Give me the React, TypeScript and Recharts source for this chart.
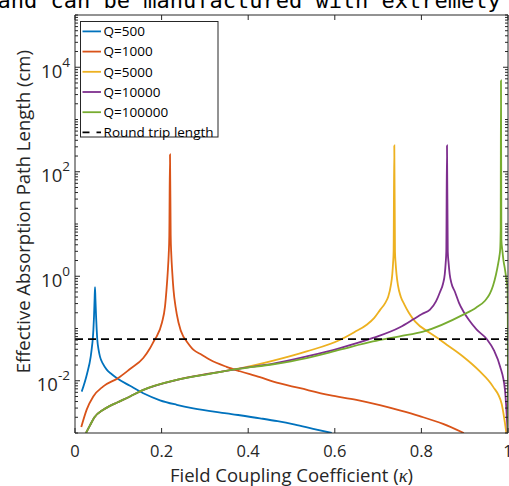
import React from 'react';
import { LineChart, Line, XAxis, YAxis, Legend } from 'recharts';

// ---------- data ----------
const seriesNames = ['Q=500', 'Q=1000', 'Q=5000', 'Q=10000', 'Q=100000'];
const seriesColors = ['#0072BD', '#D95319', '#EDB120', '#7E2F8E', '#77AC30'];
const roundTripName = 'Round trip length';

const xTicks = [0, 0.2, 0.4, 0.6, 0.8, 1];
const yLabeledExponents = [-2, 0, 2, 4];
const yDomain = [0.001, 100000];

const q500 = [
  { k: 0.0155, v: 0.0062 }, { k: 0.0277, v: 0.0135 }, { k: 0.0363, v: 0.029 },
  { k: 0.0388, v: 0.042 }, { k: 0.0409, v: 0.061 }, { k: 0.0425, v: 0.095 },
  { k: 0.0439, v: 0.17 }, { k: 0.0453, v: 0.38 }, { k: 0.0462, v: 0.62 },
  { k: 0.0471, v: 0.38 }, { k: 0.0487, v: 0.17 }, { k: 0.0501, v: 0.095 },
  { k: 0.0515, v: 0.061 }, { k: 0.0543, v: 0.04 }, { k: 0.0577, v: 0.029 },
  { k: 0.0647, v: 0.021 }, { k: 0.0732, v: 0.0163 }, { k: 0.085, v: 0.0133 },
  { k: 0.0962, v: 0.0113 }, { k: 0.127, v: 0.008 }, { k: 0.1577, v: 0.00575 },
  { k: 0.1963, v: 0.00423 }, { k: 0.2349, v: 0.00347 }, { k: 0.2732, v: 0.00297 },
  { k: 0.3503, v: 0.00238 }, { k: 0.4273, v: 0.00191 }, { k: 0.4677, v: 0.00168 },
  { k: 0.5081, v: 0.00144 }, { k: 0.55, v: 0.0012 }, { k: 0.593, v: 0.001 },
];

const q1000 = [
  { k: 0.0145, v: 0.0013 }, { k: 0.027, v: 0.0028 }, { k: 0.0422, v: 0.005 },
  { k: 0.0653, v: 0.0078 }, { k: 0.0999, v: 0.0113 }, { k: 0.127, v: 0.0168 },
  { k: 0.1577, v: 0.0272 }, { k: 0.1732, v: 0.042 }, { k: 0.1848, v: 0.063 },
  { k: 0.1887, v: 0.0707 }, { k: 0.2009, v: 0.13 }, { k: 0.2079, v: 0.265 },
  { k: 0.2113, v: 0.55 }, { k: 0.2141, v: 1.17 }, { k: 0.2164, v: 2.6 },
  { k: 0.2178, v: 6 }, { k: 0.2194, v: 214 }, { k: 0.221, v: 6 },
  { k: 0.2224, v: 2.6 }, { k: 0.2247, v: 1.17 }, { k: 0.2275, v: 0.55 },
  { k: 0.2321, v: 0.265 }, { k: 0.239, v: 0.13 }, { k: 0.25, v: 0.0707 },
  { k: 0.254, v: 0.063 }, { k: 0.2732, v: 0.0393 }, { k: 0.2925, v: 0.0315 },
  { k: 0.3118, v: 0.0252 }, { k: 0.35, v: 0.0185 }, { k: 0.381, v: 0.0152 },
  { k: 0.427, v: 0.0117 }, { k: 0.458, v: 0.0096 }, { k: 0.52, v: 0.0072 },
  { k: 0.588, v: 0.0053 }, { k: 0.65, v: 0.0043 }, { k: 0.704, v: 0.0034 },
  { k: 0.75, v: 0.0027 }, { k: 0.796, v: 0.0021 }, { k: 0.85, v: 0.0015 },
  { k: 0.898, v: 0.001 },
];

const q5000 = [
  { k: 0.0254, v: 0.001 }, { k: 0.0346, v: 0.0014 }, { k: 0.045, v: 0.002 },
  { k: 0.0653, v: 0.0028 }, { k: 0.0808, v: 0.0033 }, { k: 0.0962, v: 0.0038 },
  { k: 0.127, v: 0.005 }, { k: 0.158, v: 0.0067 }, { k: 0.235, v: 0.0104 },
  { k: 0.3116, v: 0.0138 }, { k: 0.381, v: 0.0172 }, { k: 0.458, v: 0.0242 },
  { k: 0.535, v: 0.0364 }, { k: 0.6127, v: 0.061 }, { k: 0.645, v: 0.085 },
  { k: 0.6737, v: 0.118 }, { k: 0.6912, v: 0.16 }, { k: 0.7051, v: 0.23 },
  { k: 0.7166, v: 0.31 }, { k: 0.7235, v: 0.41 }, { k: 0.7293, v: 0.66 },
  { k: 0.7328, v: 1.1 }, { k: 0.7346, v: 1.8 }, { k: 0.7358, v: 2.96 },
  { k: 0.7374, v: 318 }, { k: 0.739, v: 2.96 }, { k: 0.7404, v: 1.8 },
  { k: 0.7425, v: 1.1 }, { k: 0.746, v: 0.66 }, { k: 0.7522, v: 0.41 },
  { k: 0.7605, v: 0.29 }, { k: 0.771, v: 0.2 }, { k: 0.7852, v: 0.137 },
  { k: 0.8198, v: 0.082 }, { k: 0.8406, v: 0.063 }, { k: 0.8584, v: 0.049 },
  { k: 0.896, v: 0.0292 }, { k: 0.935, v: 0.0151 }, { k: 0.965, v: 0.0078 },
  { k: 0.985, v: 0.0037 }, { k: 0.9962, v: 0.001 },
];

const q10000 = [
  { k: 0.0254, v: 0.001 }, { k: 0.0346, v: 0.0014 }, { k: 0.045, v: 0.002 },
  { k: 0.0653, v: 0.0028 }, { k: 0.0808, v: 0.0033 }, { k: 0.0962, v: 0.0038 },
  { k: 0.127, v: 0.005 }, { k: 0.158, v: 0.0067 }, { k: 0.235, v: 0.0104 },
  { k: 0.3116, v: 0.0137 }, { k: 0.381, v: 0.0171 }, { k: 0.458, v: 0.0212 },
  { k: 0.535, v: 0.0292 }, { k: 0.612, v: 0.0423 }, { k: 0.6882, v: 0.066 },
  { k: 0.7505, v: 0.106 }, { k: 0.7813, v: 0.15 }, { k: 0.8014, v: 0.19 },
  { k: 0.8199, v: 0.229 }, { k: 0.8337, v: 0.33 }, { k: 0.843, v: 0.5 },
  { k: 0.8499, v: 0.72 }, { k: 0.854, v: 1.1 }, { k: 0.8561, v: 1.8 },
  { k: 0.8575, v: 2.96 }, { k: 0.8591, v: 318 }, { k: 0.8609, v: 2.96 },
  { k: 0.8628, v: 1.8 }, { k: 0.8653, v: 1.1 }, { k: 0.8697, v: 0.72 },
  { k: 0.8776, v: 0.5 }, { k: 0.8868, v: 0.31 }, { k: 0.8967, v: 0.214 },
  { k: 0.9099, v: 0.145 }, { k: 0.9277, v: 0.095 }, { k: 0.9508, v: 0.063 },
  { k: 0.9676, v: 0.038 }, { k: 0.9815, v: 0.019 }, { k: 0.993, v: 0.0067 },
  { k: 0.9993, v: 0.001 },
];

const q100000 = [
  { k: 0.0254, v: 0.001 }, { k: 0.0346, v: 0.0014 }, { k: 0.045, v: 0.002 },
  { k: 0.0653, v: 0.0028 }, { k: 0.0808, v: 0.0033 }, { k: 0.0962, v: 0.0038 },
  { k: 0.127, v: 0.005 }, { k: 0.158, v: 0.0067 }, { k: 0.235, v: 0.0104 },
  { k: 0.3116, v: 0.0136 }, { k: 0.381, v: 0.017 }, { k: 0.458, v: 0.0207 },
  { k: 0.535, v: 0.0272 }, { k: 0.612, v: 0.0393 }, { k: 0.688, v: 0.0566 },
  { k: 0.75, v: 0.071 }, { k: 0.804, v: 0.087 }, { k: 0.8968, v: 0.184 },
  { k: 0.9261, v: 0.25 }, { k: 0.9469, v: 0.34 }, { k: 0.9525, v: 0.39 },
  { k: 0.9584, v: 0.47 }, { k: 0.9654, v: 0.66 }, { k: 0.9723, v: 1.08 },
  { k: 0.9776, v: 1.8 }, { k: 0.9801, v: 2.4 }, { k: 0.982, v: 3.3 },
  { k: 0.9831, v: 7.8 }, { k: 0.9838, v: 5600 }, { k: 0.9847, v: 5 },
  { k: 0.9868, v: 3.2 }, { k: 0.9896, v: 2.0 }, { k: 0.9931, v: 1.34 },
  { k: 0.9965, v: 0.85 }, { k: 0.9992, v: 0.55 }, { k: 0.9996, v: 0.1 },
  { k: 0.9999, v: 0.001 },
];

const roundTrip = [{ k: 0, v: 0.0628 }, { k: 1, v: 0.0628 }];

const seriesData = [q500, q1000, q5000, q10000, q100000];

// ---------- styling ----------
const AXIS = '#262626';
const FONT = '"Open Sans", sans-serif';
const W = 509;
const H = 486;

const yTicks: number[] = (() => {
  const t: number[] = [];
  for (let e = -3; e <= 4; e++) {
    for (let m = 1; m <= 9; m++) t.push(Number((m * Math.pow(10, e)).toPrecision(3)));
  }
  t.push(100000);
  return t;
})();

const expOf = (v: number) => {
  const e = Math.round(Math.log10(v));
  return Math.abs(v - Math.pow(10, e)) < 1e-9 * Math.pow(10, e) ? e : null;
};

const fmtX = (v: number) => (v === 0 ? '0' : v === 1 ? '1' : String(Number(v.toFixed(1))));

const BottomTick = (props: any) => {
  const { x, y, payload } = props;
  return (
    <g>
      <line x1={x} y1={y} x2={x} y2={y - 5} stroke={AXIS} strokeWidth={1} />
      <text x={x} y={y + 23.7} textAnchor="middle" fontSize={16.5} fontFamily={FONT} fill={AXIS}>
        {fmtX(payload.value)}
      </text>
    </g>
  );
};

const TopTick = (props: any) => {
  const { x, y } = props;
  return <line x1={x} y1={y} x2={x} y2={y + 5} stroke={AXIS} strokeWidth={1} />;
};

const LeftTick = (props: any) => {
  const { x, y, payload } = props;
  const e = expOf(payload.value);
  const labeled = e !== null && yLabeledExponents.includes(e);
  return (
    <g>
      <line x1={x} y1={y} x2={x + (labeled ? 5 : 3)} y2={y} stroke={AXIS} strokeWidth={1} />
      {labeled && (
        <text x={x - 5} y={y + 10.5} textAnchor="end" fontFamily={FONT} fill={AXIS} fontSize={18.5}>
          <tspan>10</tspan>
          <tspan dy={-11} fontSize={13.5}>{String(e)}</tspan>
        </text>
      )}
    </g>
  );
};

const RightTick = (props: any) => {
  const { x, y, payload } = props;
  const e = expOf(payload.value);
  const labeled = e !== null && yLabeledExponents.includes(e);
  return <line x1={x} y1={y} x2={x - (labeled ? 5 : 3)} y2={y} stroke={AXIS} strokeWidth={1} />;
};

const legendItems = [
  ...seriesNames.map((n, i) => ({ name: n, color: seriesColors[i], dashed: false })),
  { name: roundTripName, color: '#000000', dashed: true },
];

const LegendBox = () => (
  <svg width={145} height={124} style={{ display: 'block', overflow: 'visible' }}>
    <rect x={0.5} y={0.5} width={137.5} height={115.5} fill="#ffffff" stroke={AXIS} strokeWidth={1} />
    {legendItems.map((it, i) => {
      const cy = 10.4 + i * 20.2;
      return (
        <g key={it.name}>
          <line
            x1={2.5}
            x2={21}
            y1={cy}
            y2={cy}
            stroke={it.color}
            strokeWidth={1.8}
            strokeDasharray={it.dashed ? '7 7' : undefined}
          />
          <text x={23.6} y={cy + 4.8} fontSize={13.5} fontFamily={FONT} fill="#000">
            {it.name}
          </text>
        </g>
      );
    })}
  </svg>
);

export default function App() {
  return (
    <div style={{ position: 'absolute', left: 0, top: 0, width: W, height: H, background: '#fff' }}>
      <svg width={W} height={H} style={{ position: 'absolute', left: 0, top: 0 }}>
        <text x={-2.5} y={8} fontFamily='"DejaVu Sans Mono", monospace' fontSize={22} fill="#000">
          and can be manufactured with extremely
        </text>
        <text x={291.5} y={481.7} textAnchor="middle" fontFamily={FONT} fontSize={18.5} fill={AXIS}>
          Field Coupling Coefficient (
          <tspan fontFamily='"Liberation Serif", serif' fontStyle="italic">κ</tspan>)
        </text>
        <text
          x={30}
          y={211.7}
          textAnchor="middle"
          fontFamily={FONT}
          fontSize={18.5}
          fill={AXIS}
          transform="rotate(-90 30 211.7)"
        >
          Effective Absorption Path Length (cm)
        </text>
      </svg>
      <div style={{ position: 'absolute', left: 0, top: 0 }}>
        <LineChart width={W} height={H} margin={{ top: 0, right: 0, bottom: 0, left: 0 }}>
          <XAxis
            dataKey="k"
            type="number"
            domain={[0, 1]}
            ticks={xTicks}
            allowDataOverflow
            interval={0}
            height={53}
            tickSize={0}
            tickMargin={0}
            tickLine={false}
            tick={<BottomTick />}
            axisLine={{ stroke: AXIS, strokeWidth: 1 }}
          />
          <XAxis
            xAxisId="top"
            orientation="top"
            dataKey="k"
            type="number"
            domain={[0, 1]}
            ticks={xTicks}
            allowDataOverflow
            interval={0}
            height={15}
            tickSize={0}
            tickMargin={0}
            tickLine={false}
            tick={<TopTick />}
            axisLine={{ stroke: AXIS, strokeWidth: 1 }}
          />
          <YAxis
            scale="log"
            type="number"
            domain={yDomain}
            allowDataOverflow
            ticks={yTicks}
            interval={0}
            width={75}
            tickSize={0}
            tickMargin={0}
            tickLine={false}
            tick={<LeftTick />}
            axisLine={{ stroke: AXIS, strokeWidth: 1 }}
          />
          <YAxis
            yAxisId="right"
            orientation="right"
            scale="log"
            type="number"
            domain={yDomain}
            allowDataOverflow
            ticks={yTicks}
            interval={0}
            width={1}
            tickSize={0}
            tickMargin={0}
            tickLine={false}
            tick={<RightTick />}
            axisLine={{ stroke: AXIS, strokeWidth: 1 }}
          />
          <Legend
            layout="vertical"
            align="center"
            verticalAlign="middle"
            content={() => <LegendBox />}
            wrapperStyle={{ left: 80, top: 21, width: 145, height: 124 }}
          />
          {seriesData.map((d, i) => (
            <Line
              key={seriesNames[i]}
              name={seriesNames[i]}
              data={d}
              dataKey="v"
              type="monotoneX"
              stroke={seriesColors[i]}
              strokeWidth={1.8}
              dot={false}
              activeDot={false}
              isAnimationActive={false}
            />
          ))}
          <Line
            name={roundTripName}
            data={roundTrip}
            dataKey="v"
            type="linear"
            stroke="#000"
            strokeWidth={1.8}
            strokeDasharray="8 5"
            dot={false}
            activeDot={false}
            isAnimationActive={false}
          />
        </LineChart>
      </div>
    </div>
  );
}
